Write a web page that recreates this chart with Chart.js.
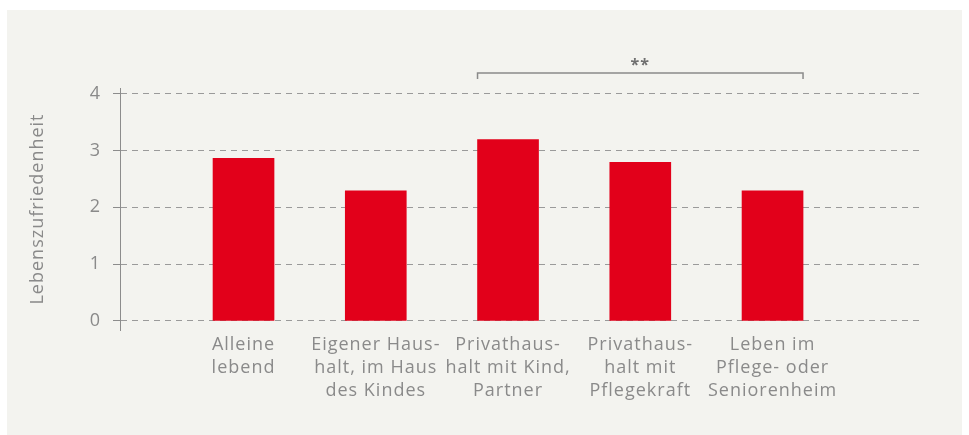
<!DOCTYPE html>
<html>
<head>
<meta charset="utf-8">
<script src="https://cdn.jsdelivr.net/npm/chart.js@4"></script>
<style>
  html,body{ margin:0; padding:0; background:#fff; }
  #panel{ position:absolute; left:7px; top:10px; width:955px; height:425px; background:#f3f3ef; }
</style>
</head>
<body>
<div id="panel"><canvas id="chart"></canvas></div>
<script>
const categories = [
  ["Alleine","lebend"],
  ["Eigener Haus-","halt, im Haus","des Kindes"],
  ["Privathaus-","halt mit Kind,","Partner"],
  ["Privathaus-","halt mit","Pflegekraft"],
  ["Leben im","Pflege- oder","Seniorenheim"]
];
const satisfaction = [2.86, 2.29, 3.19, 2.79, 2.29];
const yTicks = [0, 1, 2, 3, 4];
const yTitle = "Lebenszufriedenheit";
const bracketFrom = 3, bracketTo = 5, bracketLabel = "**";

const grey = "#8a8a8a";
const font = "Open Sans";
const barW = 61;

// wider letter spacing like the original typeface
const spacing = {
  id:"spacing",
  beforeDraw(chart){ chart.ctx.letterSpacing = "1px"; }
};

const bracket = {
  id:"bracket",
  afterDatasetsDraw(chart){
    const x = chart.scales.x, ctx = chart.ctx;
    const x1 = x.getPixelForValue(bracketFrom) - barW/2;
    const x2 = x.getPixelForValue(bracketTo) + barW/2;
    const y = 63;
    ctx.save();
    ctx.strokeStyle = "#8a8a8a";
    ctx.lineWidth = 1.5;
    ctx.beginPath();
    ctx.moveTo(x1, y+6); ctx.lineTo(x1, y); ctx.lineTo(x2, y); ctx.lineTo(x2, y+6);
    ctx.stroke();
    ctx.fillStyle = "#707070";
    ctx.font = "bold 16px " + font;
    ctx.textAlign = "center";
    ctx.textBaseline = "middle";
    ctx.fillText(bracketLabel, (x1+x2)/2, y-8);
    ctx.restore();
  }
};

new Chart(document.getElementById("chart"), {
  type:"bar",
  data:{
    datasets:[{
      data: satisfaction.map((v,i)=>({ x:i+1, y:v })),
      backgroundColor:"#e2001a",
      barThickness: barW,
      borderWidth:0
    }]
  },
  options:{
    responsive:true,
    maintainAspectRatio:false,
    animation:false,
    layout:{ padding:{ top:78, right:42, left:0, bottom:0 } },
    plugins:{ legend:{ display:false }, tooltip:{ enabled:false } },
    scales:{
      x:{
        type:"linear",
        offset:false,
        min:0.066, max:6.115,
        grid:{ display:false },
        border:{ display:false },
        afterBuildTicks(s){ s.ticks = categories.map((c,i)=>({ value:i+1 })); },
        afterFit(s){ s.height = 105; },
        ticks:{
          autoSkip:false, maxRotation:0, padding:-5,
          color:grey,
          font:{ family:font, size:18, lineHeight:1.28 },
          callback:(v)=>categories[v-1]
        }
      },
      y:{
        min:-0.16, max:4.1,
        afterBuildTicks(s){ s.ticks = yTicks.map(v=>({ value:v })); },
        afterFit(s){ s.width = 113; },
        border:{ display:true, color:"#8c8c8c", width:1, dash:[6,5] },
        grid:{
          color:"#9a9a9a", lineWidth:1,
          drawTicks:true, tickLength:7, tickBorderDash:[], tickColor:"#8c8c8c"
        },
        ticks:{ color:grey, padding:12, font:{ family:font, size:18 } },
        title:{
          display:true, text:yTitle, color:grey,
          font:{ family:font, size:18 },
          padding:{ top:20, bottom:0 }
        }
      }
    }
  },
  plugins:[spacing, bracket]
});
</script>
</body>
</html>
